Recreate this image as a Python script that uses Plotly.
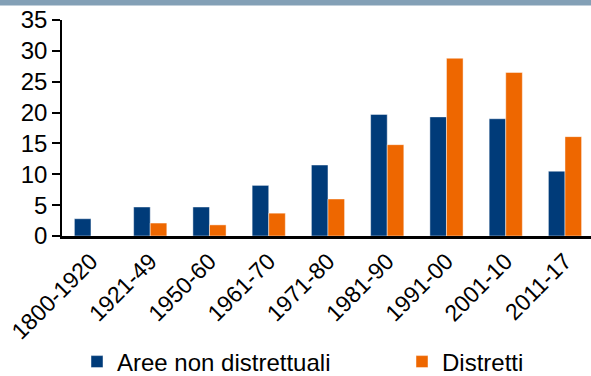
import plotly.graph_objects as go

categories = ["1800-1920", "1921-49", "1950-60", "1961-70", "1971-80",
              "1981-90", "1991-00", "2001-10", "2011-17"]
aree_non_distrettuali = [2.8, 4.7, 4.7, 8.2, 11.5, 19.7, 19.3, 19.0, 10.5]
distretti = [None, 2.1, 1.8, 3.7, 6.0, 14.8, 28.8, 26.5, 16.1]
y_ticks = [0, 5, 10, 15, 20, 25, 30, 35]

BLUE = "#003b79"
ORANGE = "#ee6700"
FONT = "Liberation Sans, Arial, sans-serif"

fig = go.Figure()
fig.add_trace(go.Bar(x=categories, y=aree_non_distrettuali, name="Aree non distrettuali",
                     legendwidth=280,
                     marker=dict(color=BLUE, line=dict(color="rgba(255,255,255,0.45)", width=1))))
fig.add_trace(go.Bar(x=categories, y=distretti, name="Distretti",
                     marker=dict(color=ORANGE, line=dict(color="rgba(255,255,255,0.45)", width=1))))

fig.update_layout(
    width=591, height=376,
    margin=dict(l=62, r=0, t=20, b=139.5, autoexpand=False),
    paper_bgcolor="white", plot_bgcolor="white",
    barmode="group", bargap=0.44, bargroupgap=0,
    font=dict(family=FONT, size=22, color="black"),
    showlegend=True,
    legend=dict(orientation="h", xref="container", yref="container",
                x=77 / 591, xanchor="left", y=(376 - 362) / 376, yanchor="middle",
                font=dict(family=FONT, size=24, color="black"),
                bgcolor="rgba(0,0,0,0)", traceorder="normal"),
    xaxis=dict(type="category", range=[-0.489, 8.439], showline=True, linecolor="black",
               linewidth=2.5, ticks="", tickangle=-45, showgrid=False, automargin=False,
               tickfont=dict(family=FONT, size=23, color="black")),
    yaxis=dict(range=[0, 35], tickvals=y_ticks, showline=True, linecolor="black",
               linewidth=1.5, ticks="outside", ticklen=8, tickwidth=1.5, tickcolor="black",
               showgrid=False, zeroline=False, ticklabelstandoff=0, automargin=False,
               tickfont=dict(family=FONT, size=24, color="black")),
    shapes=[dict(type="rect", xref="paper", yref="paper", x0=-0.12, x1=1.0,
                 y0=1 + 14.5 / 216.5, y1=1 + 20.5 / 216.5, fillcolor="#83a0b6",
                 line=dict(width=0), layer="above")],
)

fig.write_html("out.html")
